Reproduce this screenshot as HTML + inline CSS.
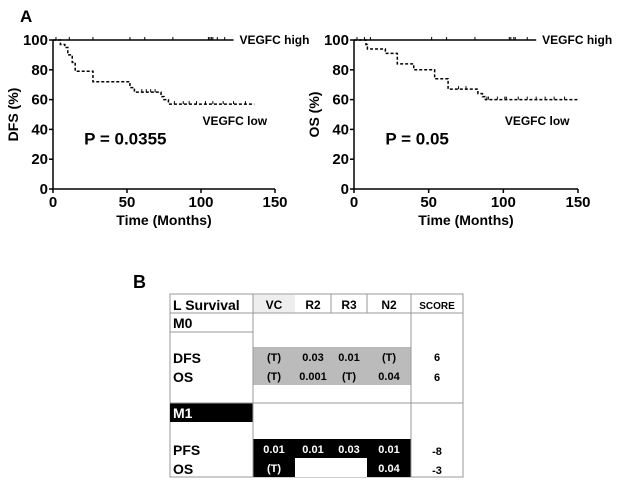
<!DOCTYPE html>
<html><head><meta charset="utf-8"><style>
body{margin:0;background:#fff;width:617px;height:480px;overflow:hidden;font-family:"Liberation Sans",Arial,sans-serif}
svg text{font-family:"Liberation Sans",Arial,sans-serif;font-weight:bold}
</style></head><body>
<svg width="617" height="480">
<text x="20" y="22" font-size="17">A</text>
<text x="133" y="288" font-size="18">B</text>
<g id="chart1"></g>
<g id="chart2"></g>
<g font-size="11">
 <rect x="170" y="294" width="293" height="183" fill="#fff" stroke="#999"/>
 <rect x="253" y="295" width="42" height="18" fill="#eee"/>
 <rect x="253" y="347" width="158" height="38" fill="#bbb"/>
 <rect x="170" y="403" width="83" height="19" fill="#000"/>
 <rect x="253" y="439" width="158" height="38" fill="#000"/>
 <rect x="295" y="458" width="72" height="19" fill="#fff"/>
 <g stroke="#999" fill="none">
  <line x1="170" y1="313" x2="463" y2="313"/><line x1="170" y1="332" x2="253" y2="332"/>
  <line x1="170" y1="403" x2="463" y2="403"/>
  <line x1="253" y1="294" x2="253" y2="477"/><line x1="411" y1="294" x2="411" y2="477"/>
  <line x1="331" y1="294" x2="331" y2="313"/><line x1="367" y1="294" x2="367" y2="313"/>
 </g>
 <text x="173" y="310" font-size="14">L Survival</text>
 <text x="274" y="309" text-anchor="middle" font-size="12">VC</text>
 <text x="313" y="309" text-anchor="middle" font-size="12">R2</text>
 <text x="349" y="309" text-anchor="middle" font-size="12">R3</text>
 <text x="389" y="309" text-anchor="middle" font-size="12">N2</text>
 <text x="437" y="309" text-anchor="middle" font-size="10">SCORE</text>
 <text x="173" y="328" font-size="14">M0</text>
 <text x="173" y="363" font-size="14">DFS</text>
 <text x="173" y="382" font-size="14">OS</text>
 <text x="173" y="418" font-size="14" fill="#fff">M1</text>
 <text x="173" y="455" font-size="14">PFS</text>
 <text x="173" y="474" font-size="14">OS</text>
 <g text-anchor="middle" font-size="11">
  <text x="274" y="361">(T)</text><text x="313" y="361">0.03</text><text x="349" y="361">0.01</text><text x="389" y="361">(T)</text><text x="437" y="361">6</text>
  <text x="274" y="380">(T)</text><text x="313" y="380">0.001</text><text x="349" y="380">(T)</text><text x="389" y="380">0.04</text><text x="437" y="381">6</text>
  <g fill="#fff"><text x="274" y="453">0.01</text><text x="313" y="453">0.01</text><text x="349" y="453">0.03</text><text x="389" y="453">0.01</text>
  <text x="274" y="472">(T)</text><text x="389" y="472">0.04</text></g>
  <text x="437" y="455">-8</text><text x="437" y="474">-3</text>
 </g>
</g>
</svg>
<script>
const dfsLowT=[0,5,8,10,13,15,25,27,50,52,55,72,73,75,78,136];
const dfsLowS=[100,97,95,90,85,79,79,72,72,68,65,65,62,60,57,57];
const dfsLowCens=[60,63,66,69,82,88,92,97,103,108,115,122,130];
const dfsHighCens=[2,11,27,52,62,81,105,106,107,108,111,116];
const osLowT=[0,8,9,20,21,28,29,39,40,52,54,62,63,82,83,86,88,150];
const osLowS=[100,97,94,94,91,91,84,84,80,80,74,74,67,67,64,62,60,60];
const osLowCens=[70,75,89,90,96,101,102,110,116,122,128,134,141];
const osHighCens=[2,7,11,52,62,81,104,105,107,108,116];
const xTicks=[0,50,100,150], yTicks=[0,20,40,60,80,100];
const NS='http://www.w3.org/2000/svg';
function el(p,t,a){const e=document.createElementNS(NS,t);for(const k in a)e.setAttribute(k,a[k]);p.appendChild(e);return e;}
function draw(g,x0,x1,ylab,pText,lowT,lowS,lowC,highC,highEnd){
 const y0=189,y1=40;
 const X=v=>x0+(x1-x0)*v/150, Y=v=>y0+(y1-y0)*v/100;
 const ax=el(g,'path',{d:`M${x0} ${Y(100)}V${y0}H${x1}`,stroke:'#000',fill:'none','stroke-width':1.5});
 
 
 yTicks.forEach(v=>{el(g,'line',{x1:x0-4,x2:x0,y1:Y(v),y2:Y(v),stroke:'#000','stroke-width':1.5});
  const t=el(g,'text',{x:x0-5,y:Y(v)+5,'text-anchor':'end','font-size':15});t.textContent=v;
  
  });
 xTicks.forEach(v=>{el(g,'line',{x1:X(v),x2:X(v),y1:y0,y2:y0+4,stroke:'#000','stroke-width':1.5});
  const t=el(g,'text',{x:X(v),y:y0+18,'text-anchor':'middle','font-size':15});t.textContent=v;
  
  });
 const xt=el(g,'text',{x:(x0+x1)/2,y:225,'text-anchor':'middle','font-size':14});xt.textContent='Time (Months)';
 
 
 const yt=el(g,'text',{x:0,y:0,'text-anchor':'middle','font-size':14,transform:`translate(${x0-35},${(y0+y1)/2}) rotate(-90)`});yt.textContent=ylab;
 
 
 let d=`M${X(lowT[0])} ${Y(lowS[0])}`;
 for(let i=1;i<lowT.length;i++){d+=`H${X(lowT[i])}V${Y(lowS[i])}`;}
 const lp=el(g,'path',{d,stroke:'#000',fill:'none','stroke-width':1.5,'stroke-dasharray':'3,2'});
 
 
 lowC.forEach(c=>{let s=lowS[0];for(let i=0;i<lowT.length;i++)if(lowT[i]<=c)s=lowS[i];
  el(g,'line',{x1:X(c),x2:X(c),y1:Y(s)-3,y2:Y(s),stroke:'#000','stroke-width':1});});
 const hp=el(g,'path',{d:`M${X(0)} ${Y(100)}H${X(highEnd)}`,stroke:'#000','stroke-width':1.5});
 
 
 highC.forEach(c=>el(g,'line',{x1:X(c),x2:X(c),y1:Y(100)-3,y2:Y(100),stroke:'#000','stroke-width':1}));
 const l1=el(g,'text',{x:X(126),y:Y(100)+4,'font-size':12});l1.textContent='VEGFC high';
 
 
 const l2=el(g,'text',{x:X(101),y:Y(43),'font-size':12});l2.textContent='VEGFC low';
 
 
 const p=el(g,'text',{x:X(21),y:Y(30),'font-size':17});p.textContent=pText;
 
 
}
draw(document.getElementById('chart1'),53,275,'DFS (%)','P = 0.0355',dfsLowT,dfsLowS,dfsLowCens,dfsHighCens,122);
draw(document.getElementById('chart2'),354,578,'OS (%)','P = 0.05',osLowT,osLowS,osLowCens,osHighCens,122);
</script>
</body></html>
